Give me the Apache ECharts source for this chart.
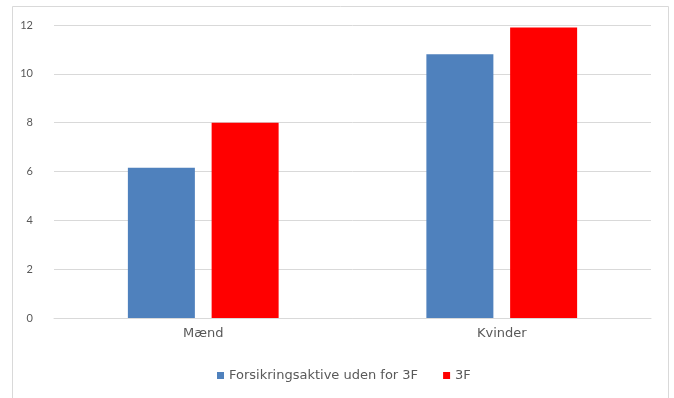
<!DOCTYPE html>
<html>
<head>
<meta charset="utf-8">
<script src="https://cdn.jsdelivr.net/npm/echarts@6/dist/echarts.min.js"></script>
<style>
  html, body { margin: 0; padding: 0; background: #fff; }
  #chart { width: 674px; height: 398px; }
</style>
</head>
<body>
<div id="chart"></div>
<script>
// Categories and series values
const categories = ['Mænd', 'Kvinder'];
const seriesNames = ['Forsikringsaktive uden for 3F', '3F'];
const outside3F = [6.15, 10.8];
const members3F = [8.0, 11.9];
const yTicks = [0, 2, 4, 6, 8, 10, 12];

const chart = echarts.init(document.getElementById('chart'), null, { renderer: 'canvas' });

const textColor = '#595959';
const labelFont = '"DejaVu Sans", sans-serif';
const tickFont = 'Lato, "Open Sans", sans-serif';

chart.setOption({
  animation: false,
  backgroundColor: '#ffffff',
  graphic: [
    {
      type: 'rect',
      shape: { x: 12.5, y: 6.5, width: 656, height: 420 },
      style: { fill: 'none', stroke: '#d9d9d9', lineWidth: 1 },
      silent: true
    }
  ],
  grid: { left: 54, right: 23, top: 25, bottom: 80, containLabel: false },
  legend: {
    data: seriesNames,
    top: 364,
    left: 212,
    itemWidth: 7,
    itemHeight: 7,
    itemGap: 25,
    icon: 'rect',
    textStyle: { color: textColor, fontSize: 13, fontFamily: labelFont }
  },
  xAxis: {
    type: 'category',
    data: categories,
    axisLine: { show: true, lineStyle: { color: '#d9d9d9' } },
    axisTick: { show: false },
    axisLabel: { color: textColor, fontSize: 13, fontFamily: labelFont, margin: 9 }
  },
  yAxis: {
    type: 'value',
    min: yTicks[0],
    max: yTicks[yTicks.length - 1],
    interval: 2,
    axisLine: { show: false },
    axisTick: { show: false },
    axisLabel: { color: textColor, fontSize: 11, fontFamily: tickFont, margin: 21 },
    splitLine: { lineStyle: { color: '#d9d9d9', width: 1 } }
  },
  series: [
    {
      name: seriesNames[0],
      type: 'bar',
      data: outside3F,
      barWidth: 67,
      barGap: '25%',
      itemStyle: { color: '#4f81bd' }
    },
    {
      name: seriesNames[1],
      type: 'bar',
      data: members3F,
      barWidth: 67,
      barGap: '25%',
      itemStyle: { color: '#ff0000' }
    }
  ]
});
</script>
</body>
</html>
